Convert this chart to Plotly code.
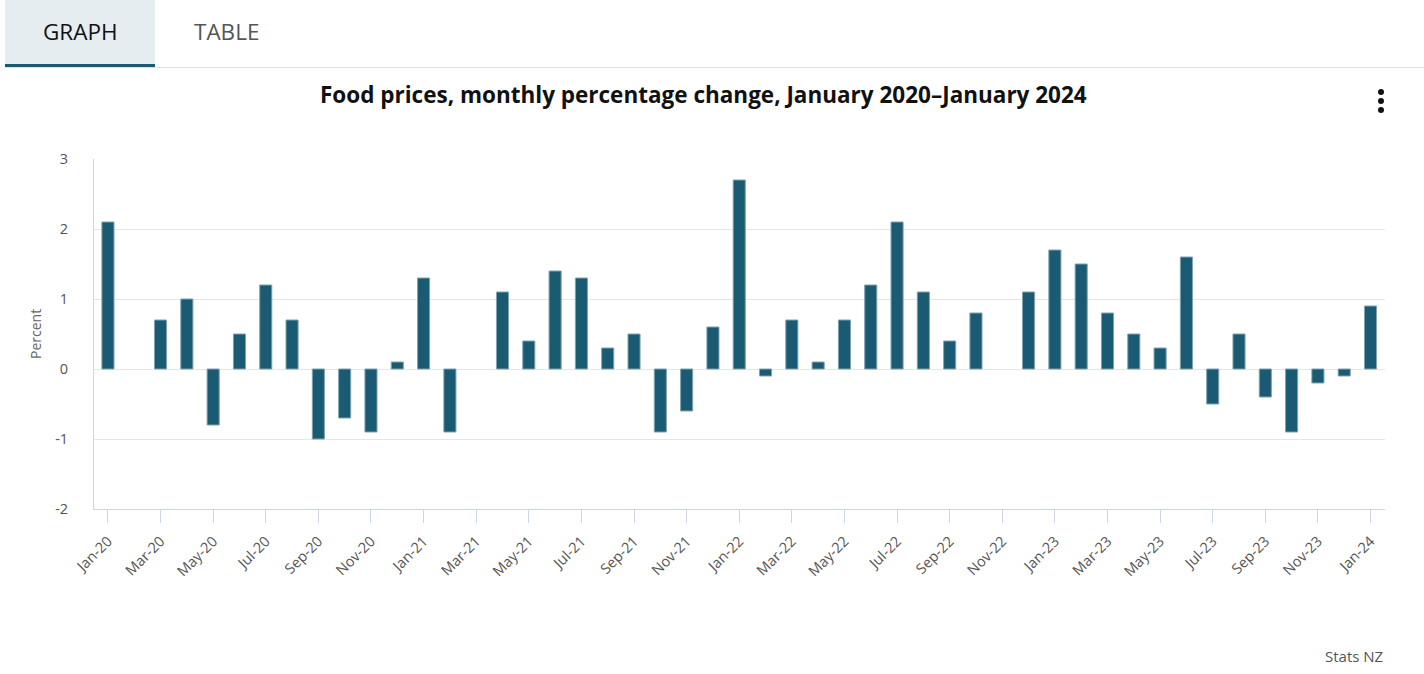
import plotly.graph_objects as go

months = ["Jan-20","Feb-20","Mar-20","Apr-20","May-20","Jun-20","Jul-20","Aug-20","Sep-20","Oct-20","Nov-20","Dec-20",
          "Jan-21","Feb-21","Mar-21","Apr-21","May-21","Jun-21","Jul-21","Aug-21","Sep-21","Oct-21","Nov-21","Dec-21",
          "Jan-22","Feb-22","Mar-22","Apr-22","May-22","Jun-22","Jul-22","Aug-22","Sep-22","Oct-22","Nov-22","Dec-22",
          "Jan-23","Feb-23","Mar-23","Apr-23","May-23","Jun-23","Jul-23","Aug-23","Sep-23","Oct-23","Nov-23","Dec-23",
          "Jan-24"]
values = [2.1, 0.0, 0.7, 1.0, -0.8, 0.5, 1.2, 0.7, -1.0, -0.7, -0.9, 0.1,
          1.3, -0.9, 0.0, 1.1, 0.4, 1.4, 1.3, 0.3, 0.5, -0.9, -0.6, 0.6,
          2.7, -0.1, 0.7, 0.1, 0.7, 1.2, 2.1, 1.1, 0.4, 0.8, 0.0, 1.1,
          1.7, 1.5, 0.8, 0.5, 0.3, 1.6, -0.5, 0.5, -0.4, -0.9, -0.2, -0.1,
          0.9]
tick_labels = months[::2]
y_tickvals = [-2, -1, 0, 1, 2, 3]
y_ticktext = ["-2", "-1", "0", "1", "2", "3"]

W, H = 1424, 674
L, R, T, B = 94, 1385, 159, 509

def px(x):
    return (x - L) / (R - L)

def py(y):
    return (B - y) / (B - T)

fig = go.Figure()
fig.add_trace(go.Bar(
    x=months, y=values,
    marker=dict(color="#1a5b73",
                line=dict(color="#7fa3b1", width=[0 if v == 0 else 1 for v in values])),
    hovertemplate="%{x}: %{y}%<extra></extra>",
))

font_family = "'Open Sans', sans-serif"

shapes = [
    dict(type="rect", xref="paper", yref="paper", x0=px(5), x1=px(155), y0=py(64), y1=py(0),
         fillcolor="#e6edf1", line=dict(width=0), layer="below"),
    dict(type="line", xref="paper", yref="paper", x0=px(5), x1=px(1424), y0=py(67.5), y1=py(67.5),
         line=dict(color="#e0e0e0", width=1)),
    dict(type="rect", xref="paper", yref="paper", x0=px(5), x1=px(155), y0=py(67), y1=py(64),
         fillcolor="#1a5b73", line=dict(width=0)),
]
for cy in (92, 101, 110):
    shapes.append(dict(type="circle", xref="paper", yref="paper",
                       x0=px(1378), x1=px(1384), y0=py(cy + 3), y1=py(cy - 3),
                       fillcolor="#111111", line=dict(width=0)))

annotations = [
    dict(text="GRAPH", xref="paper", yref="paper", x=px(80), y=py(31), showarrow=False,
         font=dict(size=22.5, color="#111111", family=font_family), xanchor="center", yanchor="middle"),
    dict(text="TABLE", xref="paper", yref="paper", x=px(226), y=py(31), showarrow=False,
         font=dict(size=22.5, color="#555555", family=font_family), xanchor="center", yanchor="middle"),
    dict(text="<b>Food prices, monthly percentage change, January 2020–January 2024</b>",
         xref="paper", yref="paper", x=px(703), y=py(94), showarrow=False,
         font=dict(size=22.5, color="#111111", family=font_family), xanchor="center", yanchor="middle"),
    dict(text="Percent", xref="paper", yref="paper", x=px(35), y=py(334), showarrow=False, textangle=-90,
         font=dict(size=14, color="#666666", family=font_family), xanchor="center", yanchor="middle"),
    dict(text="Stats NZ", xref="paper", yref="paper", x=px(1385), y=py(656), showarrow=False,
         font=dict(size=15, color="#555555", family=font_family), xanchor="right", yanchor="middle"),
]

fig.update_layout(
    width=W, height=H,
    margin=dict(l=L, r=W - R, t=T, b=H - B),
    paper_bgcolor="white", plot_bgcolor="white",
    showlegend=False,
    bargap=0.54,
    shapes=shapes,
    annotations=annotations,
    font=dict(family=font_family, color="#555555"),
    xaxis=dict(
        type="category",
        range=[-0.53, 48.55],
        tickmode="array", tickvals=tick_labels, ticktext=tick_labels,
        tickangle=-45, ticks="outside", ticklen=13, tickcolor="#ccd6eb", tickwidth=1,
        tickfont=dict(size=14.5, color="#555555", family=font_family),
        showgrid=False, showline=True, linecolor="#ccd6eb", zeroline=False,
        ticklabelstandoff=4,
    ),
    yaxis=dict(
        range=[-2, 3],
        tickmode="array", tickvals=y_tickvals, ticktext=y_ticktext,
        tickfont=dict(size=14.5, color="#555555", family=font_family),
        showgrid=True, gridcolor="#e6e6e6", gridwidth=1,
        zeroline=True, zerolinecolor="#e6e6e6", zerolinewidth=1,
        showline=True, linecolor="#ccd6eb", ticks="", ticklabelstandoff=22,
    ),
)

fig.write_html("out.html", config={"displayModeBar": False},
               post_script="document.body.style.margin='0';")
